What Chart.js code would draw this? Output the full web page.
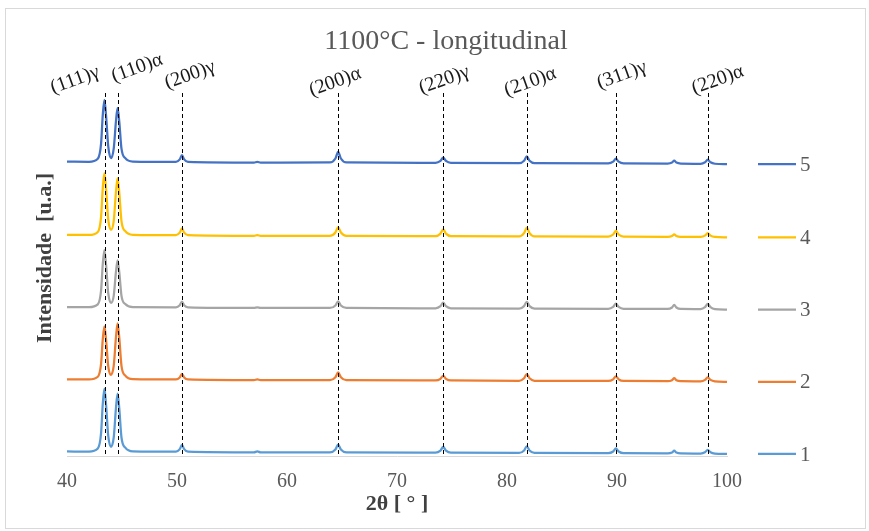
<!DOCTYPE html>
<html><head><meta charset="utf-8">
<script src="https://cdn.jsdelivr.net/npm/chart.js@4.4.0/dist/chart.umd.min.js"></script>
<style>html,body{margin:0;padding:0;background:#fff}</style>
</head><body>
<canvas id="c" width="869" height="531"></canvas>
<script>
// ---- data ----
const twoTheta = [40, 42.0, 42.8, 43.1, 43.25, 43.4, 43.55, 43.75, 44.0, 44.25, 44.45, 44.6, 44.75, 44.95, 45.3, 46.0,
  49.9, 50.25, 50.45, 50.65, 51.0, 57.0, 57.3, 57.6, 63.9, 64.4, 64.65, 64.9, 65.4,
  73.5, 73.95, 74.2, 74.45, 74.9, 81.1, 81.55, 81.8, 82.05, 82.5, 89.2, 89.65, 89.9, 90.15, 90.6,
  94.6, 95.0, 95.2, 95.4, 95.8, 97.6, 98.0, 98.25, 98.5, 98.9, 100];

const series1 = [2.5, 2.4, 5.5, 21.1, 49.5, 65.2, 49.5, 18.0, 7.2, 16.7, 45.7, 60.2, 45.7, 16.7, 6.3, 2.6,
  2.3, 4.8, 9.0, 4.8, 2.3, 1.6, 2.6, 1.6, 1.6, 4.5, 9.3, 4.5, 1.6,
  1.3, 3.4, 7.0, 3.4, 1.3, 1.0, 3.5, 7.7, 3.5, 1.0, 0.8, 2.5, 5.5, 2.5, 0.8,
  0.6, 1.5, 3.3, 1.5, 0.6, 0.45, 1.75, 4.15, 1.75, 0.45, 0];
const series2 = [2.5, 2.4, 5.0, 18.1, 42.0, 55.2, 42.0, 15.5, 7.0, 16.2, 44.2, 58.2, 44.2, 16.2, 6.1, 2.6,
  2.3, 4.4, 8.0, 4.4, 2.3, 1.6, 2.4, 1.6, 1.6, 4.5, 9.3, 4.5, 1.6,
  1.3, 3.0, 6.0, 3.0, 1.3, 1.0, 3.5, 7.7, 3.5, 1.0, 0.8, 2.5, 5.5, 2.5, 0.8,
  0.6, 1.6, 3.6, 1.6, 0.6, 0.45, 1.9, 4.45, 1.9, 0.45, 0];
const series3 = [2.5, 2.4, 5.2, 19.3, 45.0, 59.2, 45.0, 16.5, 6.6, 14.0, 37.5, 49.2, 37.5, 14.0, 5.5, 2.5,
  2.3, 4.4, 8.0, 4.4, 2.3, 1.6, 2.2, 1.6, 1.6, 4.1, 8.3, 4.1, 1.6,
  1.3, 3.4, 7.0, 3.4, 1.3, 1.0, 3.5, 7.7, 3.5, 1.0, 0.8, 2.7, 6.0, 2.7, 0.8,
  0.6, 2.1, 4.8, 2.1, 0.6, 0.45, 2.35, 5.65, 2.35, 0.45, 0];
const series4 = [2.5, 2.4, 5.4, 20.8, 48.7, 64.2, 48.7, 17.7, 7.6, 16.5, 45.0, 59.2, 45.0, 16.5, 6.2, 2.6,
  2.3, 4.8, 9.0, 4.8, 2.3, 1.6, 2.3, 1.6, 1.6, 4.9, 10.3, 4.9, 1.6,
  1.3, 3.8, 8.0, 3.8, 1.3, 1.0, 4.3, 9.7, 4.3, 1.0, 0.8, 2.9, 6.5, 2.9, 0.8,
  0.6, 1.4, 3.0, 1.4, 0.6, 0.45, 1.75, 4.15, 1.75, 0.45, 0];
const series5 = [2.5, 2.4, 5.4, 20.8, 48.7, 64.2, 48.7, 17.7, 6.0, 15.7, 42.7, 56.2, 42.7, 15.7, 6.0, 2.6,
  2.3, 4.8, 9.0, 4.8, 2.3, 1.6, 2.3, 1.6, 1.7, 5.7, 12.3, 5.7, 1.7,
  1.3, 3.2, 6.5, 3.2, 1.3, 1.0, 3.5, 7.7, 3.5, 1.0, 0.8, 2.5, 5.5, 2.5, 0.8,
  0.6, 1.6, 3.6, 1.6, 0.6, 0.45, 1.9, 4.45, 1.9, 0.45, 0];

const seriesNames = ['1', '2', '3', '4', '5'];
const seriesOffsets = [2, 74, 146, 218, 291];
const seriesColors = ['#5b9bd5', '#ed7d31', '#a5a5a5', '#ffc000', '#4472c4'];

const peakPositions = [43.45, 44.65, 50.45, 64.65, 74.2, 81.85, 89.9, 98.25];
const peakLabels = ['(111)γ', '(110)α', '(200)γ', '(200)α', '(220)γ', '(210)α', '(311)γ', '(220)α'];

const xTicks = [40, 50, 60, 70, 80, 90, 100];
const chartTitle = '1100°C - longitudinal';
const xTitle = '2θ [ ° ]';
const yTitle = 'Intensidade  [u.a.]';

// ---- layout / style ----
const FONT = "'Liberation Serif', 'Times New Roman', serif";
const labelDx = [-30, 19, 8, -3, 1, 3, 6, 10];
const labelY = [80, 68, 75, 82, 80, 82, 75, 80];

const allSeries = [series1, series2, series3, series4, series5];
const datasets = allSeries.map((s, k) => ({
  label: seriesNames[k],
  data: twoTheta.map((x, i) => ({ x: x, y: s[i] + seriesOffsets[k] })),
  borderColor: seriesColors[k],
  borderWidth: 2.25,
  pointRadius: 0,
  fill: false,
  cubicInterpolationMode: 'monotone'
}));

const decor = {
  id: 'decor',
  beforeDraw(chart) {
    const ctx = chart.ctx;
    ctx.save();
    ctx.fillStyle = '#fff';
    ctx.fillRect(0, 0, chart.width, chart.height);
    ctx.strokeStyle = '#d9d9d9';
    ctx.lineWidth = 1;
    ctx.strokeRect(5.5, 8.5, 860, 520);
    ctx.restore();
  },
  afterDatasetsDraw(chart) {
    const ctx = chart.ctx;
    const xs = chart.scales.x, area = chart.chartArea;
    ctx.save();
    ctx.strokeStyle = '#000';
    ctx.lineWidth = 1;
    ctx.setLineDash([4, 3]);
    peakPositions.forEach((p) => {
      const px = Math.round(xs.getPixelForValue(p)) + 0.5;
      ctx.beginPath();
      ctx.moveTo(px, 93);
      ctx.lineTo(px, area.bottom);
      ctx.stroke();
    });
    ctx.setLineDash([]);
    ctx.fillStyle = '#1a1a1a';
    ctx.font = '20px ' + FONT;
    ctx.textAlign = 'center';
    ctx.textBaseline = 'middle';
    peakPositions.forEach((p, i) => {
      const px = xs.getPixelForValue(p) + labelDx[i];
      ctx.save();
      ctx.translate(px, labelY[i]);
      ctx.rotate(-20 * Math.PI / 180);
      ctx.fillText(peakLabels[i], 0, 0);
      ctx.restore();
    });
    ctx.restore();
  },
  afterDraw(chart) {
    const ctx = chart.ctx;
    const ys = chart.scales.y;
    ctx.save();
    // title
    ctx.fillStyle = '#595959';
    ctx.font = '28px ' + FONT;
    ctx.textAlign = 'center';
    ctx.textBaseline = 'middle';
    ctx.fillText(chartTitle, 446, 42);
    // y title
    ctx.save();
    ctx.translate(45, 258);
    ctx.rotate(-Math.PI / 2);
    ctx.fillStyle = '#404040';
    ctx.font = 'bold 22px ' + FONT;
    ctx.fillText(yTitle, 0, 0);
    ctx.restore();
    // legend
    ctx.font = '21px ' + FONT;
    ctx.textAlign = 'left';
    seriesNames.forEach((n, k) => {
      const py = ys.getPixelForValue(seriesOffsets[k]);
      ctx.strokeStyle = seriesColors[k];
      ctx.lineWidth = 2.25;
      ctx.beginPath();
      ctx.moveTo(758, py);
      ctx.lineTo(796, py);
      ctx.stroke();
      ctx.fillStyle = '#595959';
      ctx.fillText(n, 800, py + 1);
    });
    ctx.restore();
  }
};

new Chart(document.getElementById('c'), {
  type: 'line',
  data: { datasets: datasets },
  options: {
    responsive: false,
    animation: false,
    events: [],
    layout: { padding: { left: 67, right: 142, top: 90, bottom: 16 } },
    plugins: { legend: { display: false }, tooltip: { enabled: false }, title: { display: false } },
    scales: {
      x: {
        type: 'linear', min: 40, max: 100,
        afterBuildTicks: (s) => { s.ticks = xTicks.map(v => ({ value: v })); },
        ticks: { font: { family: FONT, size: 20 }, color: '#595959', padding: -1, maxRotation: 0 },
        grid: { display: false, drawTicks: true, tickLength: 15 },
        border: { display: true, color: '#d9d9d9', width: 1 },
        title: { display: true, text: xTitle, color: '#404040',
          font: { family: FONT, size: 22, weight: 'bold', lineHeight: 1.0 }, padding: { top: 0, bottom: 0 } }
      },
      y: { type: 'linear', min: 0, max: 365, display: false }
    }
  },
  plugins: [decor]
});
</script>
</body></html>
